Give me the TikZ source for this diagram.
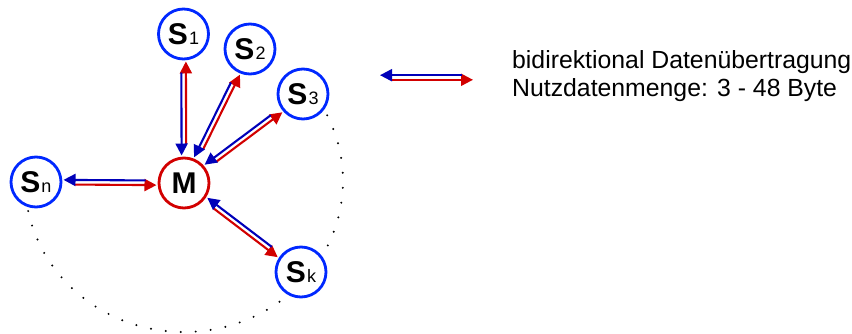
\documentclass[tikz,border=0pt]{standalone}
\usepackage{fontspec}
\setmainfont{Liberation Sans}
\usetikzlibrary{calc,arrows.meta}
\definecolor{nodeblue}{RGB}{0,40,255}
\definecolor{arrblue}{RGB}{0,0,185}
\definecolor{arrred}{RGB}{210,0,0}
\newcommand\bidi[3]{%
  \path ($(#1.center)!#3!(#2.center)$) coordinate (bA)
        ($(#2.center)!#3!(#1.center)$) coordinate (bB);
  \draw[redline] ($(bA)!2.3pt!-90:(bB)$) -- ($(bB)!2.3pt!90:(bA)$);
  \draw[blueline] ($(bB)!2.3pt!-90:(bA)$) -- ($(bA)!2.3pt!90:(bB)$);
}
\newcommand\sub[1]{\kern1pt{\fontsize{18}{18}\selectfont\mdseries #1}}
\begin{document}
\begin{tikzpicture}[x=1pt,y=1pt,
  station/.style={circle, draw=nodeblue, line width=2.8pt, fill=white,
    minimum size=50pt, inner sep=0pt, font=\fontsize{30}{30}\selectfont\bfseries},
  master/.style={station, draw=arrred},
  arrowline/.style={line width=2.1pt, shorten <=11pt, -{Triangle[length=12pt,width=12pt]}},
  redline/.style={arrowline, draw=arrred, fill=arrred},
  blueline/.style={arrowline, draw=arrblue, fill=arrblue},
  dotarc/.style={line width=2.2pt, dash pattern=on 0pt off 15pt, line cap=round},
  legendtext/.style={anchor=base west, inner sep=0pt, font=\fontsize{24.8}{28}\selectfont}
]
\useasboundingbox (0,0) rectangle (852,333);
% dotted arc behind the stations
\coordinate (arcstart) at ({184+159*cos(37)},{152+151*sin(37)});
\draw[dotarc] (arcstart) arc[start angle=37, end angle=-180, x radius=159, y radius=151];
% stations
\node[master]  (M)  at (184,150) {M};
\node[station] (S1) at (183.5,299) {S\sub{1}};
\node[station] (S2) at (250,284) {S\sub{2}};
\node[station] (S3) at (303,239) {S\sub{3}};
\node[station] (Sn) at (36,151) {S\sub{n}};
\node[station] (Sk) at (301,61) {S\sub{k}};
% bidirectional connectors
\bidi{M}{S1}{27.5pt}
\bidi{M}{S2}{27.5pt}
\bidi{M}{S3}{27.5pt}
\bidi{M}{Sk}{27.5pt}
\bidi{Sn}{M}{27.5pt}
% legend
\coordinate (L1) at (380,255.5);
\coordinate (L2) at (473,255.5);
\bidi{L1}{L2}{0pt}
\node[legendtext] (leg1) at (512,265) {bidirektional Datenübertragung};
\node[legendtext] (leg2) at (512,237) {Nutzdatenmenge: 3 - 48 Byte};
\end{tikzpicture}
\end{document}
